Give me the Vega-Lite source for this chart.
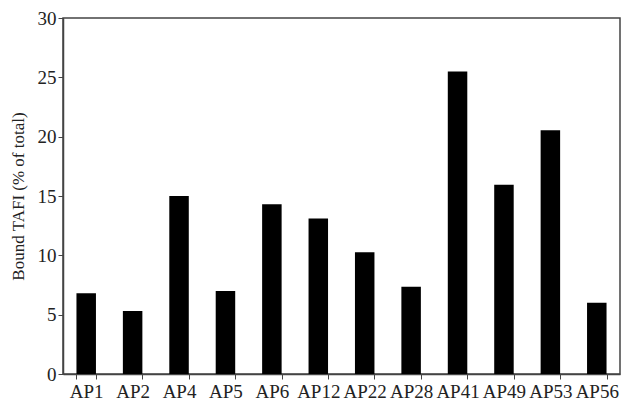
{
  "$schema": "https://vega.github.io/schema/vega-lite/v6.json",
  "width": 557,
  "height": 356,
  "autosize": {"type": "none"},
  "padding": {"left": 63, "top": 18, "right": 1, "bottom": 32},
  "background": "white",
  "data": {"values": [
    {"peptide": "AP1", "bound": 6.8},
    {"peptide": "AP2", "bound": 5.3},
    {"peptide": "AP4", "bound": 15.0},
    {"peptide": "AP5", "bound": 7.0},
    {"peptide": "AP6", "bound": 14.3},
    {"peptide": "AP12", "bound": 13.1},
    {"peptide": "AP22", "bound": 10.25},
    {"peptide": "AP28", "bound": 7.35},
    {"peptide": "AP41", "bound": 25.5},
    {"peptide": "AP49", "bound": 15.95},
    {"peptide": "AP53", "bound": 20.55},
    {"peptide": "AP56", "bound": 6.0}
  ]},
  "config": {
    "view": {"stroke": "#444", "strokeWidth": 1.5},
    "font": "Liberation Serif"
  },
  "mark": {"type": "bar", "color": "black"},
  "encoding": {
    "x": {
      "field": "peptide", "type": "nominal", "sort": null,
      "scale": {"paddingInner": 0.58, "paddingOuter": 0.29},
      "axis": {
        "title": null, "labelAngle": 0, "labelFont": "Liberation Serif",
        "labelFontSize": 19, "labelColor": "#222", "labelPadding": 3,
        "tickBand": "extent", "domainColor": "#444", "tickColor": "#444",
        "tickSize": 5, "domainWidth": 1.5
      }
    },
    "y": {
      "field": "bound", "type": "quantitative",
      "scale": {"domain": [0, 30], "nice": false},
      "axis": {
        "title": "Bound TAFI (% of total)", "titleFont": "Liberation Serif",
        "titleFontSize": 17, "titleFontWeight": "normal", "titleColor": "#222",
        "titlePadding": 10,
        "values": [0, 5, 10, 15, 20, 25, 30], "grid": false,
        "labelFont": "Liberation Serif", "labelFontSize": 19, "labelColor": "#222",
        "domainColor": "#444", "tickColor": "#444", "tickSize": 5, "domainWidth": 1.5,
        "labelPadding": 2
      }
    }
  }
}
